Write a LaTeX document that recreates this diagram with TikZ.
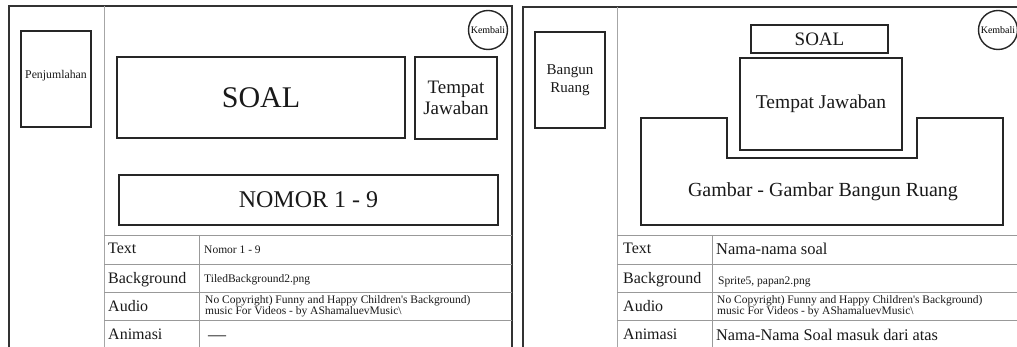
\documentclass[tikz,border=0pt]{standalone}
\usepackage{fontspec}
\setmainfont{Liberation Serif}
\newcommand{\fsz}[2]{\fontsize{#1}{#2}\selectfont}
\begin{document}
\begin{tikzpicture}[x=1pt, y=-1pt,
    panel/.style={draw=black!80, line width=1.6pt},
    divider/.style={draw=black!35, line width=0.8pt},
    rowline/.style={draw=black!40, line width=0.8pt},
    box/.style={draw=black!85, line width=1.6pt, inner sep=0pt, align=center, text=black!90},
    btn/.style={circle, draw=black!85, line width=1.4pt, minimum size=39, inner sep=0pt, font=\fsz{10}{11}},
    lbl/.style={anchor=base west, inner sep=0pt, text=black!90, font=\fsz{16}{18}},
    cell/.style={anchor=base west, inner sep=0pt, text=black!90, font=\fsz{11.5}{12}}]
    \useasboundingbox (0,0) rectangle (1017,347);

    % 左边画面: 框架
    \draw[panel] (9,347) -- (9,6) -- (512,6) -- (512,347);
    \draw[divider] (104,6) -- (104,347);
    \node[box, minimum width=70, minimum height=96, text depth=10pt, font=\fsz{11.8}{13}] (penj) at (56,79) {Penjumlahan};
    \node[btn] (kembaliA) at (488,30) {Kembali};
    \node[box, minimum width=288, minimum height=81, font=\fsz{30}{32}] (soalA) at (261,97.5) {SOAL};
    \node[box, minimum width=82, minimum height=82, font=\fsz{19}{21}] (jawabA) at (456,98) {Tempat\\Jawaban};
    \node[box, minimum width=379, minimum height=50, font=\fsz{24}{26}] (nomor) at (308.5,200) {NOMOR 1 - 9};

    % 左边表格
    \foreach \y in {235,264,292,320} \draw[rowline] (104,\y) -- (512,\y);
    \draw[rowline] (199,235) -- (199,347);
    \node[lbl] (textA) at (108,254) {Text};
    \node[lbl] (bgA) at (108,283.5) {Background};
    \node[lbl] (audioA) at (108,312) {Audio};
    \node[lbl] (animA) at (108,339) {Animasi};
    \node[cell] (textvalA) at (204,254) {Nomor 1 - 9};
    \node[cell] (bgvalA) at (204,283) {TiledBackground2.png};
    \node[cell] (audiovalA) at (205,304) {No Copyright) Funny and Happy Children\textquotesingle s Background)};
    \node[cell] (audiovalA2) at (205,315) {music For Videos - by AShamaluevMusic\textbackslash};
    \node[cell, font=\fsz{18}{18}] (animvalA) at (208,340) {—};

    % 右边画面: 框架
    \draw[panel] (523,347) -- (523,7) -- (1017,7);
    \draw[divider] (617,7) -- (617,347);
    \node[box, minimum width=70, minimum height=96, font=\fsz{15}{18}] (bangun) at (570,80) {Bangun\\Ruang};
    \node[btn] (kembaliB) at (998,30) {Kembali};
    \node[box, minimum width=137, minimum height=28, font=\fsz{19}{20}] (soalB) at (819.5,39) {SOAL};
    \node[box, minimum width=162, minimum height=92, font=\fsz{19.5}{21}] (jawabB) at (821,104) {Tempat Jawaban};
    % 凹形的图片区域
    \draw[draw=black!85, line width=1.6pt] (641,118) -- (727,118) -- (727,158) -- (917,158)
        -- (917,118) -- (1003,118) -- (1003,225) -- (641,225) -- cycle;
    \node[inner sep=0pt, text=black!90, font=\fsz{20}{22}] (gambar) at (823,192) {Gambar - Gambar Bangun Ruang};

    % 右边表格
    \foreach \y in {235,264,292,320} \draw[rowline] (617,\y) -- (1017,\y);
    \draw[rowline] (712,235) -- (712,347);
    \node[lbl] (textB) at (623,254) {Text};
    \node[lbl] (bgB) at (623,283.5) {Background};
    \node[lbl] (audioB) at (623,312) {Audio};
    \node[lbl] (animB) at (623,339) {Animasi};
    \node[cell, font=\fsz{16.5}{18}] (textvalB) at (716,255) {Nama-nama soal};
    \node[cell] (bgvalB) at (718,285) {Sprite5, papan2.png};
    \node[cell] (audiovalB) at (717,304) {No Copyright) Funny and Happy Children\textquotesingle s Background)};
    \node[cell] (audiovalB2) at (717,315) {music For Videos - by AShamaluevMusic\textbackslash};
    \node[cell, font=\fsz{16.3}{18}] (animvalB) at (716,340) {Nama-Nama Soal masuk dari atas};
\end{tikzpicture}
\end{document}
